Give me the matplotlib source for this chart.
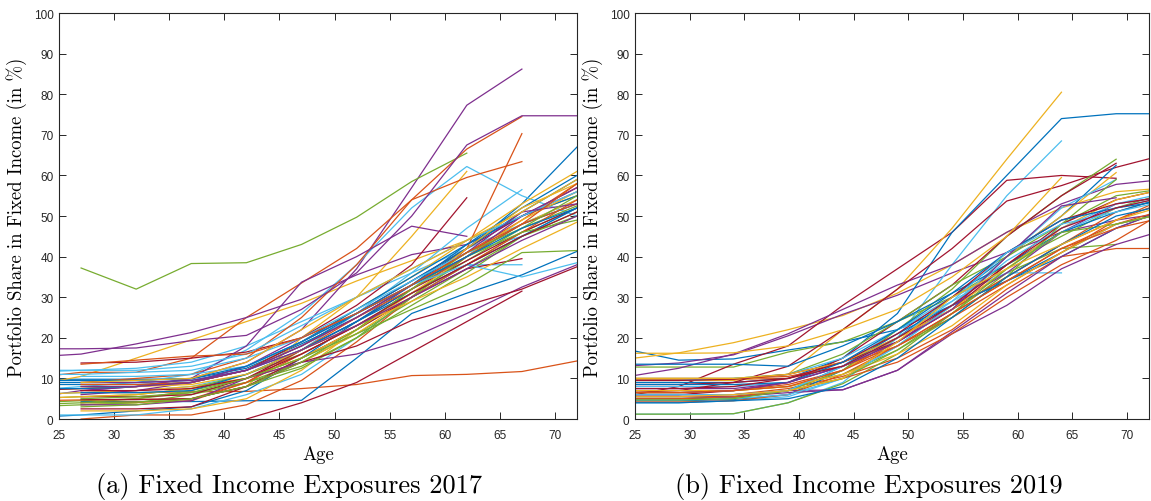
import numpy as np
import matplotlib.pyplot as plt

# glide paths: fixed income share (%) by age, one row per fund
# None = fund has no value at that age
ages_2017 = [22, 27, 32, 37, 42, 47, 52, 57, 62, 67, 72]
paths_2017 = [
    [9.8, 9.8, 9.8, 9.9, 12.5, 18.5, 25, 33, 42, 53, 67],
    [None, 6.5, 6.5, 6.7, 6.8, 7.5, 8.5, 10.7, 11, 11.7, 14.3],
    [8, 10.5, 15, 19.5, 24, 28.5, 34, 39, 44, 50, 55],
    [5, 7, 8, 10, 14, 22, 37, 57, 77.3, 86.2, None],
    [None, 37.2, 32, 38.3, 38.5, 43, 49.7, 58.5, 65.5, None, None],
    [7, 8, 9, 11, 17, 26, 38, 52, 62.2, 55, 50],
    [None, None, None, None, 0, 4, 9, 16.5, 24, 31.5, None],

    [None, 4.3, 4.3, 4.3, 4.5, 4.6, 15, 26, 31, 35.5, 41.3],
    [10, 11.5, 11.5, 15, 25, 33.5, 42, 54, 66.5, 74.5, None],
    [None, 3.5, 4, 5, 8, 20, 30, 45, 61, None, None],
    [15.2, 16, 18.5, 21.3, 25, 29.5, 35.5, 40.5, 43, 50, 56],
    [3.5, 4, 5, 7, 10, 15, 22, 30, 38, 46, 52],
    [11.5, 12, 12.5, 14, 18, 24, 30, 36, 42, 48, 54],
    [None, 13.8, 14, 15, 16.5, 20, 28, 38, 54.5, None, None],

    [0.3, 1, 2, 3, 7, 15, 24, 33, 43, 52, 60],
    [None, 9, 10, 11, 15, 25, 38, 54, 59.5, 63.4, None],
    [7, 7.5, 8, 9, 12, 19, 27, 35, 44, 53, 61],
    [17.3, 17.3, 17.5, 19.3, 20.6, 27, 36, 50, 67.5, 74.7, 74.7],
    [4, 4.5, 5, 6.5, 9, 14, 21, 29, 37, 45, 51],
    [6, 6.5, 7, 8, 11, 17, 26, 36, 47, 56.5, None],
    [7, 7.5, 8, 9, 12, 19, 26, 34, 42, 50, 57],

    [8.5, 8.5, 8.5, 9, 12, 18, 26, 34, 42, 51, 59],
    [None, 0, 1, 1, 3.5, 9.5, 19, 30, 42, 70.3, None],
    [6, 6.5, 7, 8, 10, 14, 21, 30, 40, 48, 54],
    [None, 7, 8, 10, 18, 33.7, 40, 47.5, 45, None, None],
    [5, 5.5, 6, 7.5, 11, 16, 23, 31, 39, 47, 52.5],
    [1, 1, 1, 2.5, 6, 11, 20, 30, 38, 38, None],
    [None, 2.5, 2.5, 3, 8, 15, 22, 30, 37, 39.5, None],

    [7.5, 7.5, 8, 9, 13, 19, 27, 35, 43, 50, 55],
    [4.5, 4.7, 4.8, 5, 9, 17, 25, 33, 41, 49, 58],
    [None, 2, 2, 2.5, 5, 12, 22, 32, 42, 52, 58],
    [None, 6, 7, 9, 13, 20, 26, 33, 40, 50, 57],
    [3, 3.5, 4, 6, 9, 13, 20, 28, 36, 45, 50],
    [11, 11, 11.5, 12, 15, 20, 27, 34, 41, 45, 52],
    [None, 5.5, 5.5, 6, 10, 17, 24, 32, 39, 46, 52],

    [9, 9, 9, 9.5, 12, 17, 24, 31, 38, 45, 52],
    [None, 4, 4.2, 4.5, 9, 16, 23, 30, 38, 46, 54],
    [5, 5.5, 6, 7.5, 10, 15, 22, 31, 40, 49, 56],
    [None, 3.5, 3.5, 4.5, 10, 14, 16, 20, 26, 32.5, 38],
    [None, 4, 4.2, 5, 8, 12.5, 20, 30, 40, 46, 49],
    [12, 12, 12, 13, 16, 23, 30, 37, 44, 50, 56],
    [None, 4.8, 4.8, 5, 8, 14, 18, 24.3, 28, 32, 37.5],

    [None, 6.5, 6.5, 7, 11, 17, 24, 32, 40, 48, 53],
    [None, 8.5, 8.5, 9, 12, 18, 25, 32, 40, 48, 53],
    [None, 8, 8, 8.5, 11, 17, 23, 29, 35, 42, 48.5],
    [None, 9, 9, 9.5, 12, 18, 25, 33, 41, 51, 53],
    [None, 3, 3.5, 5, 8, 14, 22, 32, 41, 47, 55],
    [None, 10.5, 10.5, 11, 13, 19, 26, 33, 38, 35, 38.5],
    [None, 7, 7, 7.5, 10, 16, 23, 31, 38, 45, 51],

    [9.5, 9.5, 9.5, 10, 13, 19, 26, 33, 40, 47, 52],
    [None, 13.5, 14.5, 15.5, 16, 20, 26, 33, 41, 48, 58],
    [None, 9, 9.5, 10, 14, 22, 30, 37, 44, 51, 59],
    [None, 8, 8, 9, 12, 17, 23, 30, 37, 44, 50],
    [None, 5, 5.5, 6.5, 10, 15, 21, 27, 33, 41, 41.5],
]

ages_2019 = [24, 29, 34, 39, 44, 49, 54, 59, 64, 69, 74]
paths_2019 = [
    [17.3, 14.5, 14.8, 17, 19, 22, 28, 34, 40, 47, 52],
    [9.8, 9.8, 9.8, 10, 14, 20, 27, 35, 43, 49, 54],
    [14.7, 16.3, 18.8, 22, 25.5, 31, 38, 46, 52, 56, 57],
    [13, 13.8, 15.8, 20.5, 25.8, 30.5, 36, 41, 46, 49, 51],
    [12.8, 12.8, 12.8, 16.5, 19, 24, 30, 38, 45, 52, 56],
    [1.2, 1.2, 1.3, 4, 9, 20, 38, 55, 68.5, None, None],
    [5.5, 8, 13.5, 18, 28, 37, 46, 58.8, 60, 59.3, None],

    [9, 9, 9, 10, 15, 26, 46, 60, 74, 75.2, 75.2],
    [6, 6, 6, 7.5, 10.5, 15, 22, 32, 40, 42, 42],
    [9.5, 9.5, 9.5, 11, 22, 32, 47, 64, 80.5, None, None],
    [10.3, 12.5, 16, 21, 27, 33, 38, 46, 53, 57.8, 59.2],
    [1.2, 1.2, 1.3, 4, 8.7, 16, 26, 36, 42, 43, None],
    [8, 8, 8, 9, 13, 22, 30, 36, 36, None, None],
    [6.5, 7, 9, 13, 22, 32, 42, 53.7, 57.5, 62, 65.5],

    [4.5, 4.5, 4.8, 6, 12, 20, 30, 40, 50, 62.5, None],
    [7, 7, 7, 8.5, 12, 19, 27, 35, 43, 51, 55],
    [5.5, 5.5, 5.5, 7, 12, 20, 28, 40, 50, 60.7, None],
    [6, 6, 6, 7, 7.2, 12, 21.5, 31, 40, 47, 52],
    [5, 5, 5.2, 7, 12, 22, 32, 45, 55, 64, None],
    [4, 4, 4.5, 5.5, 10, 18, 28, 40, 52, 59, None],
    [6, 6, 7, 9, 15, 24, 33, 45, 55, 63, None],

    [5, 5, 5.5, 7, 13, 21, 28, 34, 41, 48, 51],
    [10, 10, 10, 10.5, 13, 18, 25, 33, 41, 49, 55],
    [16.2, 16.2, 16.3, 18, 22, 27, 35, 45, 59.5, None, None],
    [7.5, 7.5, 7.5, 9, 13, 19, 28, 36, 46, 53, 55],
    [10, 10, 10, 11, 16, 24, 33, 40, 48, 55, 57],
    [9.5, 9.5, 10, 11, 15, 22, 29, 37, 46, 52, 55],
    [9.5, 9.5, 9.8, 11, 14, 19, 27, 38, 48, 54, 57],

    [13.5, 13.5, 13.5, 13, 18, 24, 31, 38, 46, 51, 55],
    [4.2, 4.2, 4.5, 6, 11, 18, 26, 34, 42, 48, 52],
    [10, 10, 10, 11, 14, 20, 27, 37, 47, 54, 57],
    [5.5, 5.5, 5.5, 6.5, 7.2, 12, 21, 28, 37, 43, 47],
    [6.5, 6.5, 7, 8, 11, 17, 25, 35, 48, 59, None],
    [4.7, 4.7, 5, 6, 10, 18, 28, 39, 47, 53, 56],
    [8.5, 8.5, 9, 10, 14, 21, 30, 41, 49, 53, 55],

    [8.5, 8.5, 8.5, 9, 14, 22, 31, 41, 49, 52, 54],
    [5, 5, 5.5, 7, 10, 14, 21, 30, 38, 44, 52],
    [7, 7, 7, 8, 11, 16, 23, 33, 41, 48, 51],
    [6.5, 6.5, 7, 9, 13, 19, 27, 40, 52.5, 54.5, None],
    [4.7, 4.7, 5, 7, 10, 17, 26, 37, 46, 48, 51],
    [6, 6, 6, 7, 13, 20, 29, 41, 48, 51, 54],
    [7.5, 7.5, 8, 10, 13, 20, 28, 38, 47, 52, 55],

    [4, 4, 4.5, 5, 8, 15, 25, 35, 43, 50, 53],
    [6.5, 6.5, 7, 8, 12, 18, 26, 34, 42, 47, 50],
    [5.5, 5.5, 6, 7, 10, 19, 30, 37, 43, 49, 53],
]

panels = [
    (ages_2017, paths_2017, "(a) Fixed Income Exposures 2017"),
    (ages_2019, paths_2019, "(b) Fixed Income Exposures 2019"),
]

# MATLAB default line colour order
matlab_colors = ["#0072BD", "#D95319", "#EDB120", "#7E2F8E",
                 "#77AC30", "#4DBEEE", "#A2142F"]

plt.rcParams["axes.prop_cycle"] = plt.cycler(color=matlab_colors)
plt.rcParams["axes.unicode_minus"] = False

serif = "cmr10"
fig = plt.figure(figsize=(11.51, 5.02), dpi=100)
boxes = [[0.0513, 0.1633, 0.4500, 0.8087],
         [0.5517, 0.1633, 0.4465, 0.8087]]
caption_x = [0.251, 0.755]

for box, cx, (ages, paths, caption) in zip(boxes, caption_x, panels):
    ax = fig.add_axes(box)
    for row in paths:
        vals = np.array([np.nan if v is None else v for v in row], dtype=float)
        ax.plot(ages, vals, lw=0.9)

    ax.set_xlim(25, 72)
    ax.set_ylim(0, 100)
    ax.set_xticks(range(25, 71, 5))
    ax.set_yticks(range(0, 101, 10))
    ax.tick_params(direction="in", length=5, width=0.7, top=True, right=True,
                   labelsize=8.5, colors="#262626")
    ax.tick_params(axis="x", pad=7)
    ax.tick_params(axis="y", pad=4)
    for lab in ax.get_xticklabels() + ax.get_yticklabels():
        lab.set_fontfamily("Liberation Sans")
    for s in ax.spines.values():
        s.set_color("#262626")
        s.set_linewidth(0.8)

    ax.set_xlabel("Age", fontfamily=serif, fontsize=13.5, labelpad=3)
    ax.set_ylabel("Portfolio Share in Fixed Income (in %)", fontfamily=serif,
                  fontsize=13.5, labelpad=5)
    fig.text(cx, 0.030, caption, ha="center", va="center",
             fontfamily=serif, fontsize=19)

fig.savefig("out.png", dpi=100)
